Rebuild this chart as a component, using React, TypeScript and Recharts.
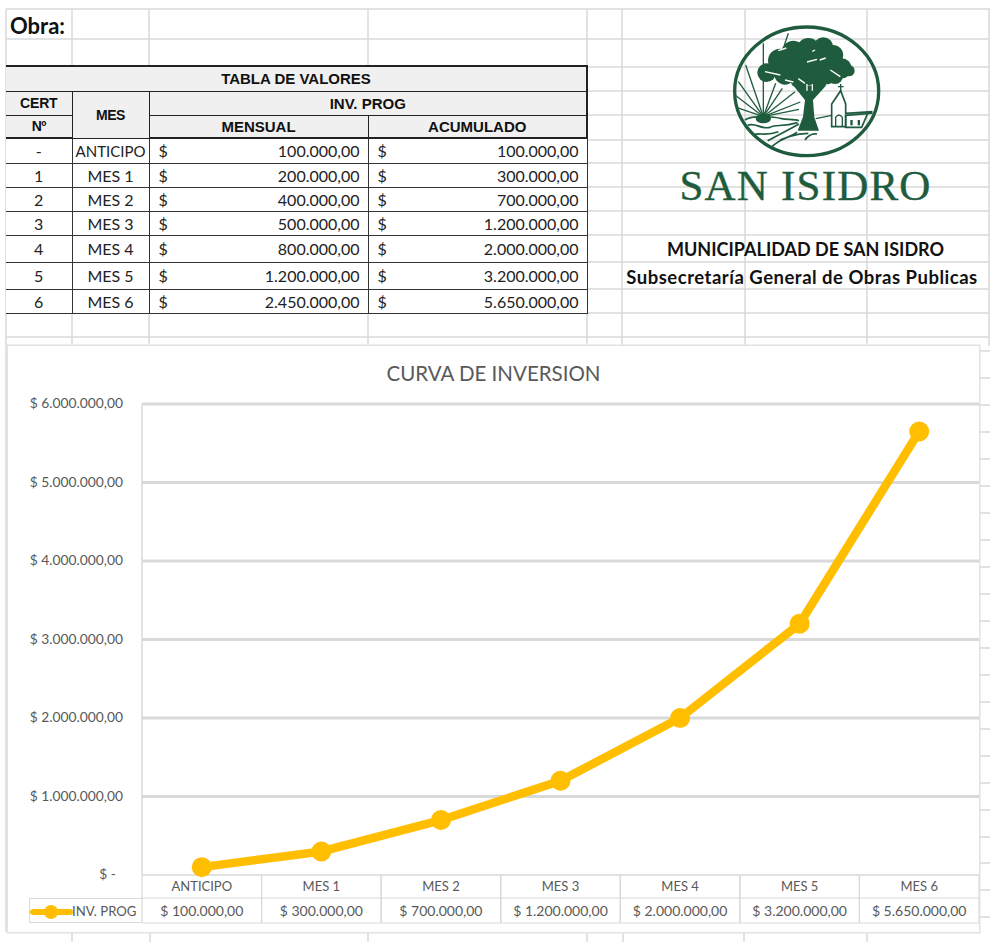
import { LineChart, Line, XAxis, YAxis, CartesianGrid, Legend } from 'recharts';

const categories = ['ANTICIPO', 'MES 1', 'MES 2', 'MES 3', 'MES 4', 'MES 5', 'MES 6'];
const certNumbers = ['-', '1', '2', '3', '4', '5', '6'];
const monthly = [100000, 200000, 400000, 500000, 800000, 1200000, 2450000];
const accumulated = [100000, 300000, 700000, 1200000, 2000000, 3200000, 5650000];
const yTicks = [0, 1000000, 2000000, 3000000, 4000000, 5000000, 6000000];
const gridValues = [1000000, 2000000, 3000000, 4000000, 5000000, 6000000];

const chartData = categories.map((mes, i) => ({ mes, acumulado: accumulated[i] }));

// spreadsheet gridlines behind everything
const sheetColumns = [6, 72, 149, 368, 587, 622, 745, 867, 989];
const sheetRows = [9, 39, 67, 91, 115, 140, 163, 187, 211, 235, 262, 289, 313, 337];
const belowChartColumns = [72, 150, 368, 587, 623, 744, 867];
const rightOfChartRows = [351, 378, 405, 432, 459, 486, 513, 540, 567, 594, 621, 648, 675, 702, 729, 756, 783, 810, 837, 863, 890, 917];

const rowHeights = [25, 24, 23, 25, 24, 24, 24, 27, 27, 24];

const money = (v: number) =>
  v.toLocaleString('de-DE', { minimumFractionDigits: 2, maximumFractionDigits: 2 });

const FONT = 'Lato, sans-serif';
const GREEN = '#1f5c3e';
const GOLD = '#ffbe00';
const TEXT = '#595959';
const CELL_W = 119.6;

function AxisTableTick({ x, y, payload, index }: any) {
  const i = payload?.index ?? index;
  return (
    <g>
      <line x1={x - CELL_W / 2} x2={x - CELL_W / 2} y1={y} y2={y + 48} stroke="#d9d9d9" strokeWidth={1.2} />
      <line x1={x + CELL_W / 2} x2={x + CELL_W / 2} y1={y} y2={y + 48} stroke="#d9d9d9" strokeWidth={1.2} />
      <line x1={x - CELL_W / 2} x2={x + CELL_W / 2} y1={y + 23} y2={y + 23} stroke="#d9d9d9" strokeWidth={1.2} />
      <line x1={x - CELL_W / 2} x2={x + CELL_W / 2} y1={y + 48} y2={y + 48} stroke="#d9d9d9" strokeWidth={1.2} />
      <text x={x} y={y + 16} textAnchor="middle" fontSize={13} fontFamily={FONT} fill={TEXT}>
        {payload.value}
      </text>
      <text x={x} y={y + 41} textAnchor="middle" fontSize={14} fontFamily={FONT} fill={TEXT}>
        {'$ ' + money(accumulated[i])}
      </text>
    </g>
  );
}

function LegendCell() {
  return (
    <svg width={113} height={25} style={{ display: 'block' }}>
      <line x1={3} x2={40} y1={13} y2={13} stroke={GOLD} strokeWidth={6} strokeLinecap="round" />
      <circle cx={21} cy={13} r={7} fill={GOLD} />
      <text x={42} y={17} fontSize={13.2} fontFamily={FONT} fill={TEXT}>INV. PROG</text>
    </svg>
  );
}

function ValueTick({ x, y, payload }: any) {
  const label = payload.value === 0 ? '$ -' : '$ ' + money(payload.value);
  return (
    <text x={payload.value === 0 ? x - 7 : x} y={y + 4} textAnchor="end" fontSize={13.8} fontFamily={FONT} fill={TEXT}>
      {label}
    </text>
  );
}

// drawn at 3x in a 495x435 box, same as the zoomed logo
function Logo() {
  const rayEnds = [
    [115, 70], [62, 135], [40, 185], [30, 225], [34, 262], [152, 190], [172, 205], [210, 215], [226, 246], [222, 268],
  ];
  const crown = [
    [125, 158, 28], [165, 122, 36], [205, 98, 36], [250, 88, 34], [295, 82, 30], [325, 105, 30], [350, 145, 30],
    [372, 152, 17], [300, 145, 48], [240, 140, 58], [180, 162, 32], [222, 176, 28], [280, 178, 28], [330, 168, 24],
  ];
  return (
    <svg width={165} height={145} viewBox="0 0 495 435" style={{ position: 'absolute', left: 725, top: 20 }}>
      <ellipse cx={245} cy={214} rx={216} ry={193} fill="none" stroke={GREEN} strokeWidth={10} />
      {rayEnds.map(([ex, ey]) => (
        <line key={ex} x1={115} y1={290} x2={ex} y2={ey} stroke={GREEN} strokeWidth={4} />
      ))}
      <path d="M190 40 L178 76" stroke={GREEN} strokeWidth={4} />
      <ellipse cx={115} cy={296} rx={23} ry={14} fill={GREEN} />
      <path d="M60 300 C80 285 150 290 170 296 C185 300 205 296 222 302" fill="none" stroke={GREEN} strokeWidth={5} />
      <path d="M68 316 C90 306 110 330 135 322 C155 312 170 322 218 308" fill="none" stroke={GREEN} strokeWidth={5} />
      <path d="M85 345 C105 336 120 350 160 335 M128 362 C160 345 190 330 222 312" fill="none" stroke={GREEN} strokeWidth={5} />
      {crown.map(([cx, cy, r]) => (
        <circle key={`${cx}-${cy}`} cx={cx} cy={cy} r={r} fill={GREEN} />
      ))}
      {/* trunk */}
      <path d="M206 198 L240 240 L234 290 L218 332 L282 332 L268 292 L264 240 L304 196 Z" fill={GREEN} />
      <path d="M160 92 L184 84 M246 126 L276 118 M284 120 L302 114 M120 155 L166 165 M180 180 L205 186 M316 150 L346 170 M262 94 L270 90 M220 176 L240 190 M246 192 L246 212 M262 192 L262 212" stroke="#fff" strokeWidth={4} />
      {/* church */}
      <path d="M320 320 L320 252 L347 212 L362 252 L362 280 L440 275 L440 280 L362 286 L362 320 Z" fill="#fff" stroke={GREEN} strokeWidth={5} />
      <path d="M347 214 L347 192 M339 200 L356 200" stroke={GREEN} strokeWidth={4} />
      <path d="M362 284 L362 322 L410 322 L428 280" fill="none" stroke={GREEN} strokeWidth={5} />
      <path d="M332 318 L332 292 Q342 278 352 292 L352 318" fill="none" stroke={GREEN} strokeWidth={4} />
      <rect x={376} y={300} width={7} height={16} fill={GREEN} />
      <rect x={398} y={300} width={7} height={16} fill={GREEN} />
      <path d="M272 296 L320 286" stroke={GREEN} strokeWidth={4} />
      <path d="M135 385 C170 350 220 340 250 340 M165 360 C190 350 210 345 216 336 M240 360 C250 345 262 340 276 342" fill="none" stroke={GREEN} strokeWidth={5} />
    </svg>
  );
}

const th: React.CSSProperties = {
  background: '#f0f0f0',
  border: '1px solid #222',
  padding: 0,
  fontFamily: "'Liberation Sans', sans-serif",
  fontWeight: 700,
  fontSize: 15,
  textAlign: 'center',
  color: '#111',
};
const td: React.CSSProperties = {
  borderBottom: '1px solid #333',
  borderRight: '1px solid #333',
  padding: 0,
  fontFamily: FONT,
  fontSize: 16,
  textAlign: 'center',
  color: '#222',
};

function moneyCell(v: number) {
  return (
    <td style={td}>
      <div style={{ display: 'flex', justifyContent: 'space-between', padding: '0 8px 0 9px' }}>
        <span>$</span>
        <span>{money(v)}</span>
      </div>
    </td>
  );
}

function ValuesTable() {
  return (
    <table
      style={{
        position: 'absolute',
        left: 6,
        top: 65,
        width: 581,
        tableLayout: 'fixed',
        borderCollapse: 'collapse',
        background: '#fff',
        borderTop: '2px solid #222',
      }}
    >
      <colgroup>
        <col style={{ width: 66 }} />
        <col style={{ width: 77 }} />
        <col style={{ width: 219 }} />
        <col style={{ width: 219 }} />
      </colgroup>
      <tbody>
        <tr style={{ height: rowHeights[0] }}>
          <th colSpan={4} style={{ ...th, borderLeft: 'none', borderTop: 'none', borderRight: '2px solid #222' }}>TABLA DE VALORES</th>
        </tr>
        <tr style={{ height: rowHeights[1] }}>
          <th style={{ ...th, fontSize: 14, letterSpacing: -0.2, borderLeft: 'none' }}>CERT</th>
          <th rowSpan={2} style={{ ...th, fontSize: 14, letterSpacing: -0.4 }}>MES</th>
          <th colSpan={2} style={{ ...th, borderRight: '2px solid #222' }}>INV. PROG</th>
        </tr>
        <tr style={{ height: rowHeights[2] }}>
          <th style={{ ...th, fontSize: 14, letterSpacing: -0.5, borderLeft: 'none', borderBottom: '2px solid #222' }}>Nº</th>
          <th style={{ ...th, borderBottom: '2px solid #222' }}>MENSUAL</th>
          <th style={{ ...th, borderRight: '2px solid #222', borderBottom: '2px solid #222' }}>ACUMULADO</th>
        </tr>
        {categories.map((mes, i) => (
          <tr key={mes} style={{ height: rowHeights[3 + i] }}>
            <td style={td}>{certNumbers[i]}</td>
            <td style={{ ...td, fontSize: i === 0 ? 15 : 16 }}>{mes}</td>
            {moneyCell(monthly[i])}
            {moneyCell(accumulated[i])}
          </tr>
        ))}
      </tbody>
    </table>
  );
}

export default function App() {
  return (
    <div style={{ position: 'absolute', left: 0, top: 0, width: 992, height: 942, background: '#fff', overflow: 'hidden' }}>
      {/* excel sheet grid */}
      <svg width={992} height={942} style={{ position: 'absolute', left: 0, top: 0 }}>
        {sheetColumns.map((x) => (
          <line key={x} x1={x} x2={x} y1={9} y2={346} stroke="#d9d9d9" strokeWidth={1.5} />
        ))}
        {sheetRows.map((y) => (
          <line key={y} x1={6} x2={990} y1={y} y2={y} stroke="#d9d9d9" strokeWidth={1.5} />
        ))}
        {belowChartColumns.map((x) => (
          <line key={x} x1={x} x2={x} y1={932} y2={942} stroke="#d9d9d9" strokeWidth={1.5} />
        ))}
        {rightOfChartRows.map((y) => (
          <line key={y} x1={979} x2={990} y1={y} y2={y} stroke="#d9d9d9" strokeWidth={1.5} />
        ))}
        <line x1={6} x2={6} y1={346} y2={932} stroke="#d9d9d9" strokeWidth={1.5} />
      </svg>

      <div style={{ position: 'absolute', left: 10, top: 12, fontFamily: FONT, fontWeight: 700, fontSize: 22, color: '#111' }}>
        Obra:
      </div>

      <ValuesTable />
      <Logo />
      <div style={{ position: 'absolute', left: 622, width: 367, top: 161, textAlign: 'center', fontFamily: "'Liberation Serif', serif", fontSize: 43, letterSpacing: 1.2, color: GREEN, whiteSpace: 'nowrap', WebkitTextStroke: '0.4px #1f5c3e' }}>
        SAN ISIDRO
      </div>

      <div style={{ position: 'absolute', left: 622, width: 367, top: 238, textAlign: 'center', fontFamily: FONT, fontWeight: 700, fontSize: 18, color: '#111' }}>
        MUNICIPALIDAD DE SAN ISIDRO
      </div>
      <div style={{ position: 'absolute', left: 622, width: 360, top: 266, textAlign: 'center', fontFamily: FONT, fontWeight: 700, fontSize: 18.5, letterSpacing: 0.5, color: '#111', whiteSpace: 'nowrap' }}>
        Subsecretaría General de Obras Publicas
      </div>

      {/* chart area */}
      <div style={{ position: 'absolute', left: 8, top: 346, width: 971, height: 586, background: '#fff', boxShadow: '0 0 0 1.5px #e2e2e2' }}>
        <div style={{ position: 'absolute', left: 0, right: 0, top: 15, textAlign: 'center', fontFamily: FONT, fontSize: 20.5, color: TEXT }}>
          CURVA DE INVERSION
        </div>
        <LineChart
          width={971}
          height={586}
          data={chartData}
          margin={{ top: 58, right: 0, left: 0, bottom: 0 }}
        >
          <CartesianGrid vertical={false} horizontalValues={gridValues} stroke="#d9d9d9" strokeWidth={3} />
          <XAxis
            dataKey="mes"
            padding={{ left: CELL_W / 2, right: CELL_W / 2 }}
            axisLine={{ stroke: '#d9d9d9', strokeWidth: 1.5 }}
            tickLine={false}
            tickSize={0}
            tickMargin={0}
            interval={0}
            height={57}
            tick={<AxisTableTick />}
          />
          <YAxis
            domain={[0, 6000000]}
            ticks={yTicks}
            width={134}
            axisLine={{ stroke: '#d9d9d9', strokeWidth: 1.5 }}
            tickLine={false}
            tick={<ValueTick />}
            tickMargin={13}
          />
          <Legend
            layout="horizontal"
            verticalAlign="middle"
            content={<LegendCell />}
            wrapperStyle={{ position: 'absolute', left: 21, top: 552, width: 113, height: 25, borderTop: '1px solid #d9d9d9', borderBottom: '1px solid #d9d9d9', borderLeft: '1px solid #d9d9d9', boxSizing: 'border-box' }}
          />
          <Line
            type="linear"
            dataKey="acumulado"
            name="INV. PROG"
            stroke={GOLD}
            strokeWidth={8.5}
            dot={{ r: 10, fill: GOLD, stroke: GOLD, strokeWidth: 0 }}
            isAnimationActive={false}
          />
        </LineChart>
      </div>
    </div>
  );
}
